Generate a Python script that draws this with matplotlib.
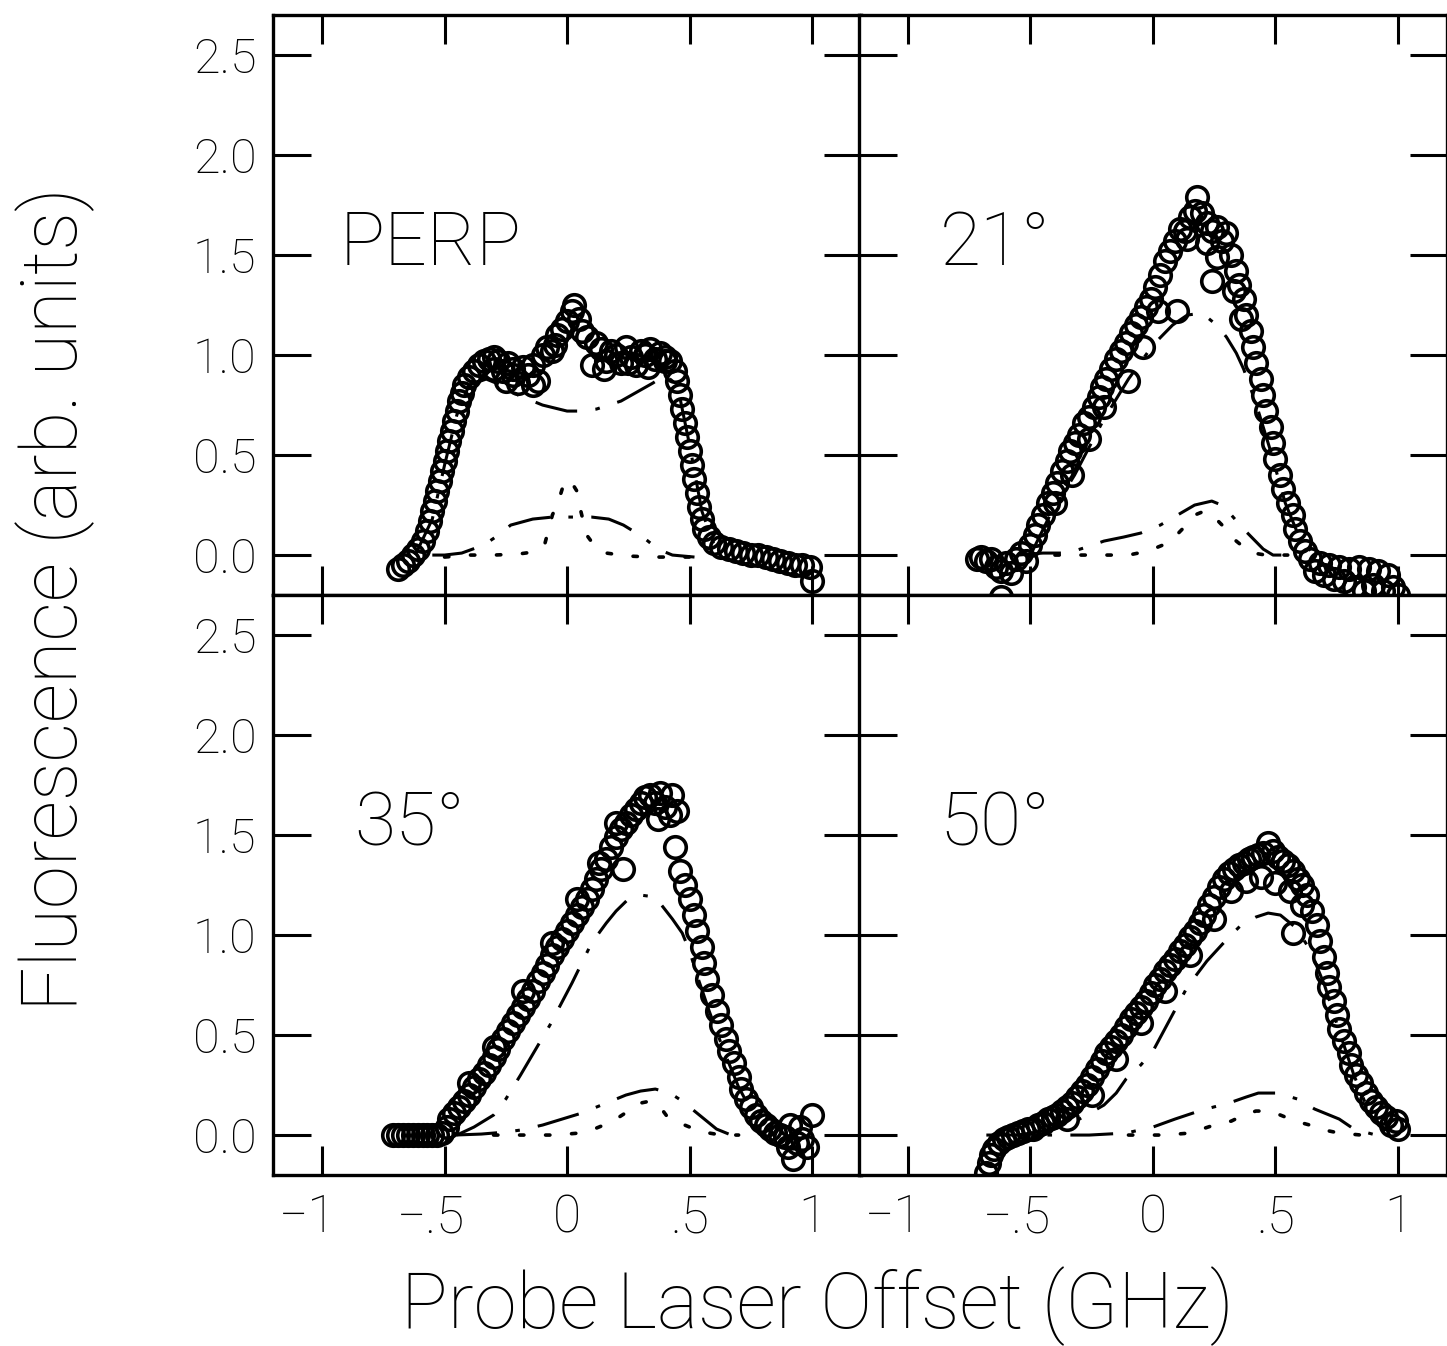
import numpy as np
import matplotlib.pyplot as plt
import matplotlib.transforms as mtransforms

# ---- data (x in GHz, y in arb. units) ----
panel_names = ['PERP', '21°', '35°', '50°']

# PERP
perp_x = [-0.69, -0.67, -0.65, -0.63, -0.61, -0.59, -0.57, -0.56, -0.55, -0.54, -0.53, -0.52, -0.51, -0.50,
          -0.49, -0.48, -0.47, -0.46, -0.45, -0.44, -0.43, -0.42, -0.40, -0.38, -0.36, -0.34, -0.32, -0.30,
          -0.28, -0.26, -0.25, -0.24, -0.22, -0.20, -0.18, -0.16, -0.14, -0.12, -0.10, -0.08, -0.06, -0.04,
          -0.02, 0.00, 0.02, 0.03, 0.05, 0.06, 0.08, 0.10, 0.12, 0.14, 0.16, 0.18, 0.20, 0.22, 0.24, 0.26,
          0.28, 0.30, 0.32, 0.34, 0.36, 0.38, 0.40, 0.42, 0.44, 0.45, 0.46, 0.47, 0.48, 0.49, 0.50, 0.51,
          0.52, 0.53, 0.54, 0.55, 0.56, 0.58, 0.60, 0.63, 0.66, 0.69, 0.72, 0.75, 0.78, 0.81, 0.84, 0.87,
          0.90, 0.93, 0.96, 0.99, 1.00,
          -0.30, -0.22, -0.14, -0.05, 0.15, 0.25, 0.33, 0.40]
perp_y = [-0.07, -0.05, -0.03, 0.00, 0.03, 0.07, 0.12, 0.17, 0.22, 0.27, 0.32, 0.37, 0.42, 0.47,
          0.52, 0.57, 0.62, 0.67, 0.72, 0.77, 0.81, 0.85, 0.89, 0.92, 0.95, 0.97, 0.98, 0.99,
          0.97, 0.92, 0.87, 0.96, 0.93, 0.86, 0.94, 0.90, 0.95, 0.87, 1.00, 1.04, 1.02, 1.10,
          1.13, 1.17, 1.22, 1.25, 1.18, 1.12, 1.09, 0.95, 1.06, 1.03, 0.97, 1.02, 1.00, 0.96, 1.04, 0.99,
          0.95, 1.02, 1.00, 1.03, 0.98, 1.01, 0.99, 0.97, 0.92, 0.87, 0.80, 0.73, 0.66, 0.59, 0.52, 0.45,
          0.38, 0.31, 0.24, 0.18, 0.13, 0.09, 0.06, 0.04, 0.03, 0.02, 0.01, 0.00, 0.00, -0.01, -0.02, -0.03,
          -0.04, -0.05, -0.05, -0.06, -0.13,
          0.93, 0.90, 0.85, 1.05, 0.93, 0.96, 0.94, 0.97]
perp_c1_x = [-0.62, -0.55, -0.50, -0.45, -0.40, -0.33, -0.25, -0.20, -0.10, 0.00, 0.05, 0.12, 0.22, 0.35, 0.40,
             0.45, 0.50, 0.55, 0.60, 0.65]
perp_c1_y = [0.00, 0.18, 0.45, 0.70, 0.85, 0.88, 0.84, 0.80, 0.75, 0.72, 0.72, 0.73, 0.77, 0.86, 0.90,
             0.85, 0.55, 0.22, 0.05, 0.00]
perp_c2_x = [-0.55, -0.50, -0.43, -0.34, -0.28, -0.23, -0.14, -0.06, 0.00, 0.10, 0.17, 0.23, 0.31, 0.37, 0.43, 0.52]
perp_c2_y = [0.00, 0.00, 0.01, 0.05, 0.10, 0.15, 0.18, 0.19, 0.19, 0.19, 0.18, 0.15, 0.09, 0.03, 0.00, -0.01]
perp_c3_x = [-0.50, -0.40, -0.30, -0.20, -0.14, -0.09, -0.06, -0.035, -0.02, 0.01, 0.04, 0.05, 0.08, 0.11,
             0.16, 0.25, 0.35, 0.45, 0.55]
perp_c3_y = [-0.01, 0.00, 0.00, 0.005, 0.015, 0.06, 0.20, 0.27, 0.33, 0.38, 0.32, 0.25, 0.10, 0.05,
             0.01, -0.005, -0.01, -0.01, -0.01]

# 21 deg
a21_x = [-0.72, -0.70, -0.68, -0.66, -0.64, -0.62, -0.60, -0.58, -0.56, -0.54, -0.52, -0.50, -0.48, -0.47,
         -0.45, -0.43, -0.41, -0.39, -0.37, -0.35, -0.34, -0.32, -0.30, -0.28, -0.26, -0.24, -0.22, -0.21,
         -0.19, -0.17, -0.15, -0.13, -0.11, -0.09, -0.07, -0.05, -0.03, -0.01, 0.01, 0.03, 0.05, 0.07,
         0.09, 0.11, 0.13, 0.15, 0.17, 0.18, 0.20, 0.22, 0.24, 0.26, 0.28, 0.30, 0.32, 0.34, 0.35, 0.37,
         0.38, 0.40, 0.41, 0.42, 0.44, 0.45, 0.46, 0.48, 0.49, 0.50, 0.52, 0.53, 0.55, 0.57, 0.58, 0.60,
         0.62, 0.64, 0.66, 0.68, 0.70, 0.72, 0.74, 0.76, 0.78, 0.80, 0.82, 0.84, 0.86, 0.88, 0.90, 0.92,
         0.94, 0.96, 0.98, 1.00,
         -0.62, -0.40, -0.33, -0.26, -0.20, -0.10, -0.04, 0.02, 0.10, 0.14, 0.22, 0.24, 0.26, 0.33, 0.36]
a21_y = [-0.02, -0.01, -0.03, -0.02, -0.06, -0.08, -0.04, -0.09, -0.02, 0.01, -0.03, 0.05, 0.10, 0.15,
         0.20, 0.26, 0.31, 0.36, 0.42, 0.47, 0.52, 0.56, 0.60, 0.66, 0.69, 0.74, 0.79, 0.84,
         0.88, 0.93, 0.98, 1.02, 1.06, 1.11, 1.15, 1.19, 1.24, 1.28, 1.34, 1.40, 1.47, 1.52,
         1.57, 1.63, 1.62, 1.69, 1.72, 1.79, 1.71, 1.66, 1.62, 1.64, 1.57, 1.61, 1.50, 1.42, 1.35, 1.28,
         1.20, 1.12, 1.04, 0.96, 0.88, 0.80, 0.72, 0.64, 0.56, 0.48, 0.40, 0.33, 0.26, 0.20, 0.13, 0.07,
         0.02, -0.02, -0.08, -0.04, -0.10, -0.05, -0.12, -0.06, -0.13, -0.07, -0.16, -0.06, -0.18, -0.07, -0.15, -0.08,
         -0.18, -0.10, -0.16, -0.20,
         -0.21, 0.26, 0.40, 0.58, 0.74, 0.87, 1.04, 1.22, 1.22, 1.58, 1.56, 1.37, 1.49, 1.32, 1.18]
a21_c1_x = [-0.50, -0.42, -0.32, -0.20, -0.10, 0.00, 0.08, 0.14, 0.20, 0.26, 0.30, 0.34, 0.37, 0.42, 0.48,
            0.54, 0.60, 0.66]
a21_c1_y = [0.00, 0.20, 0.40, 0.68, 0.88, 1.05, 1.15, 1.20, 1.21, 1.15, 1.09, 1.01, 0.93, 0.76, 0.52,
            0.26, 0.08, 0.00]
a21_c2_x = [-0.55, -0.45, -0.35, -0.27, -0.20, -0.12, -0.05, 0.03, 0.10, 0.17, 0.24, 0.28, 0.32, 0.37,
            0.41, 0.45, 0.49, 0.55]
a21_c2_y = [0.00, 0.01, 0.01, 0.04, 0.07, 0.09, 0.11, 0.15, 0.20, 0.25, 0.27, 0.25, 0.20, 0.13,
            0.08, 0.03, 0.00, 0.00]
a21_c3_x = [-0.40, -0.30, -0.20, -0.10, -0.02, 0.04, 0.08, 0.12, 0.17, 0.21, 0.25, 0.29, 0.33, 0.37,
            0.41, 0.46, 0.55]
a21_c3_y = [0.00, 0.00, 0.00, 0.00, 0.02, 0.05, 0.08, 0.13, 0.20, 0.22, 0.19, 0.14, 0.08, 0.04,
            0.01, 0.00, 0.00]

# 35 deg
a35_x = [-0.71, -0.69, -0.67, -0.65, -0.63, -0.61, -0.59, -0.57, -0.55, -0.53, -0.51, -0.49, -0.48, -0.46,
         -0.44, -0.42, -0.40, -0.38, -0.36, -0.34, -0.32, -0.30, -0.28, -0.26, -0.24, -0.22, -0.20, -0.18,
         -0.16, -0.14, -0.12, -0.10, -0.08, -0.06, -0.04, -0.02, 0.00, 0.02, 0.04, 0.06, 0.08, 0.10,
         0.12, 0.14, 0.16, 0.18, 0.20, 0.22, 0.24, 0.26, 0.28, 0.30, 0.32, 0.34, 0.36, 0.38, 0.40, 0.42,
         0.44, 0.46, 0.48, 0.50, 0.52, 0.53, 0.55, 0.56, 0.57, 0.59, 0.61, 0.63, 0.65, 0.66, 0.68, 0.70,
         0.71, 0.73, 0.75, 0.77, 0.79, 0.81, 0.83, 0.85, 0.87, 0.89, 0.91, 0.92, 0.94, 0.96, 0.98, 1.00,
         -0.40, -0.30, -0.18, -0.06, 0.04, 0.13, 0.23, 0.20, 0.37, 0.43, 0.45, 0.90, 0.95]
a35_y = [0.00, 0.00, 0.00, 0.00, 0.00, 0.00, 0.00, 0.00, 0.00, 0.00, 0.01, 0.04, 0.08, 0.11,
         0.14, 0.17, 0.20, 0.24, 0.28, 0.31, 0.35, 0.39, 0.43, 0.48, 0.52, 0.56, 0.60, 0.64,
         0.68, 0.72, 0.77, 0.81, 0.85, 0.90, 0.94, 0.98, 1.02, 1.06, 1.10, 1.14, 1.18, 1.23,
         1.28, 1.33, 1.38, 1.44, 1.49, 1.53, 1.56, 1.60, 1.63, 1.66, 1.69, 1.70, 1.66, 1.71, 1.64, 1.60,
         1.44, 1.32, 1.25, 1.18, 1.10, 1.02, 0.94, 0.86, 0.78, 0.70, 0.62, 0.55, 0.48, 0.42, 0.36, 0.29,
         0.23, 0.18, 0.14, 0.10, 0.07, 0.05, 0.03, 0.01, 0.00, -0.01, 0.05, -0.12, -0.04, -0.02, -0.06, 0.10,
         0.26, 0.44, 0.72, 0.96, 1.18, 1.36, 1.33, 1.56, 1.58, 1.70, 1.62, -0.06, 0.04]
a35_c1_x = [-0.45, -0.38, -0.30, -0.25, -0.19, -0.07, 0.02, 0.10, 0.16, 0.20, 0.25, 0.30, 0.36, 0.43,
            0.47, 0.50, 0.53, 0.58, 0.64, 0.70, 0.77, 0.85]
a35_c1_y = [0.00, 0.04, 0.10, 0.18, 0.30, 0.55, 0.76, 0.96, 1.06, 1.12, 1.18, 1.20, 1.19, 1.08,
            1.01, 0.92, 0.80, 0.62, 0.42, 0.24, 0.08, 0.00]
a35_c2_x = [-0.46, -0.35, -0.25, -0.19, -0.10, -0.02, 0.06, 0.12, 0.18, 0.24, 0.30, 0.36, 0.42, 0.47,
            0.50, 0.55, 0.61, 0.67]
a35_c2_y = [0.00, 0.005, 0.015, 0.025, 0.05, 0.08, 0.11, 0.14, 0.17, 0.20, 0.22, 0.23, 0.21, 0.17,
            0.14, 0.09, 0.03, 0.00]
a35_c3_x = [-0.30, -0.15, -0.05, 0.05, 0.10, 0.15, 0.20, 0.25, 0.30, 0.34, 0.38, 0.41, 0.46, 0.52,
            0.58, 0.63, 0.70]
a35_c3_y = [0.00, 0.00, 0.00, 0.01, 0.025, 0.05, 0.08, 0.12, 0.16, 0.17, 0.14, 0.09, 0.06, 0.03,
            0.01, 0.00, 0.00]

# 50 deg
a50_x = [-0.68, -0.67, -0.66, -0.65, -0.63, -0.61, -0.59, -0.57, -0.55, -0.53, -0.51, -0.49, -0.47, -0.45,
         -0.43, -0.41, -0.39, -0.37, -0.35, -0.33, -0.31, -0.29, -0.27, -0.25, -0.23, -0.21, -0.19, -0.17,
         -0.15, -0.13, -0.11, -0.09, -0.07, -0.05, -0.03, -0.01, 0.01, 0.03, 0.05, 0.07, 0.09, 0.11,
         0.13, 0.15, 0.17, 0.19, 0.21, 0.23, 0.25, 0.27, 0.29, 0.31, 0.33, 0.35, 0.37, 0.39, 0.41, 0.43,
         0.45, 0.47, 0.49, 0.51, 0.53, 0.55, 0.57, 0.59, 0.61, 0.63, 0.65, 0.67, 0.68, 0.70, 0.71, 0.72,
         0.74, 0.75, 0.76, 0.78, 0.80, 0.81, 0.83, 0.85, 0.87, 0.89, 0.91, 0.93, 0.95, 0.97, 0.99, 1.00,
         0.57, 0.32, 0.38, 0.44, 0.50, 0.56, 0.61, -0.35, -0.25, -0.15, -0.05, 0.05, 0.15, 0.25]
a50_y = [-0.19, -0.14, -0.10, -0.07, -0.04, -0.02, -0.01, 0.00, 0.01, 0.02, 0.03, 0.03, 0.05, 0.06,
         0.08, 0.09, 0.10, 0.12, 0.14, 0.16, 0.19, 0.22, 0.25, 0.29, 0.33, 0.37, 0.41, 0.44,
         0.47, 0.50, 0.54, 0.58, 0.61, 0.64, 0.67, 0.71, 0.75, 0.78, 0.82, 0.85, 0.88, 0.92,
         0.95, 0.99, 1.02, 1.06, 1.10, 1.15, 1.19, 1.24, 1.28, 1.31, 1.33, 1.35, 1.36, 1.38, 1.39, 1.40,
         1.41, 1.46, 1.42, 1.39, 1.37, 1.35, 1.32, 1.28, 1.25, 1.20, 1.12, 1.05, 0.97, 0.89, 0.81, 0.74,
         0.67, 0.60, 0.53, 0.47, 0.41, 0.35, 0.30, 0.26, 0.21, 0.17, 0.14, 0.11, 0.09, 0.05, 0.07, 0.03,
         1.01, 1.22, 1.27, 1.29, 1.26, 1.22, 1.15, 0.08, 0.20, 0.38, 0.56, 0.72, 0.90, 1.08]
a50_c1_x = [-0.55, -0.40, -0.30, -0.20, -0.15, -0.11, -0.05, 0.00, 0.07, 0.14, 0.22, 0.31, 0.36, 0.42,
            0.47, 0.52, 0.58, 0.64, 0.70, 0.76, 0.82, 0.88, 0.95]
a50_c1_y = [0.00, 0.03, 0.08, 0.15, 0.21, 0.28, 0.35, 0.42, 0.58, 0.74, 0.87, 0.99, 1.05, 1.09,
            1.11, 1.10, 1.04, 0.93, 0.75, 0.52, 0.30, 0.12, 0.02]
a50_c2_x = [-0.68, -0.50, -0.26, -0.11, 0.00, 0.09, 0.20, 0.31, 0.38, 0.43, 0.51, 0.59, 0.66, 0.76, 0.82, 0.91]
a50_c2_y = [0.00, 0.00, 0.00, 0.01, 0.04, 0.08, 0.125, 0.16, 0.19, 0.21, 0.21, 0.18, 0.13, 0.08, 0.03, 0.00]
a50_c3_x = [-0.10, 0.05, 0.15, 0.25, 0.32, 0.37, 0.42, 0.47, 0.52, 0.58, 0.64, 0.68, 0.76, 0.85]
a50_c3_y = [0.00, 0.00, 0.01, 0.05, 0.07, 0.10, 0.12, 0.12, 0.10, 0.07, 0.05, 0.03, 0.01, 0.00]

x_ticks = [-1, -0.5, 0, 0.5, 1]
x_tick_labels = ['\u22121', '\u2212.5', '0', '.5', '1']
y_ticks = [0, 0.5, 1.0, 1.5, 2.0, 2.5]
y_tick_labels = ['0.0', '0.5', '1.0', '1.5', '2.0', '2.5']

panels = [
    (perp_x, perp_y, perp_c1_x, perp_c1_y, perp_c2_x, perp_c2_y, perp_c3_x, perp_c3_y),
    (a21_x, a21_y, a21_c1_x, a21_c1_y, a21_c2_x, a21_c2_y, a21_c3_x, a21_c3_y),
    (a35_x, a35_y, a35_c1_x, a35_c1_y, a35_c2_x, a35_c2_y, a35_c3_x, a35_c3_y),
    (a50_x, a50_y, a50_c1_x, a50_c1_y, a50_c2_x, a50_c2_y, a50_c3_x, a50_c3_y),
]

# thin sans, close to the plotter font of the scan
plt.rcParams['font.family'] = ['Roboto', 'DejaVu Sans']
plt.rcParams['font.weight'] = 'light'

fig = plt.figure(figsize=(14.47, 13.46), dpi=100)
# axes boxes in figure fractions: [left, bottom, width, height]
boxes = [[0.1887, 0.5579, 0.4064, 0.4309],
         [0.5936, 0.5579, 0.4064, 0.4309],
         [0.1887, 0.1270, 0.4064, 0.4309],
         [0.5936, 0.1270, 0.4064, 0.4309]]

dashdot = (0, (14, 6, 1.5, 6))
dotted = (0, (1.2, 6))
# negative x labels: the digit sits on the tick, the minus hangs to the left
minus_shift = mtransforms.ScaledTranslation(-0.14, 0, fig.dpi_scale_trans)

for i in range(4):
    ax = fig.add_axes(boxes[i])
    x, y, c1x, c1y, c2x, c2y, c3x, c3y = panels[i]
    ax.plot(c1x, c1y, color='black', lw=2.2, linestyle=dashdot, zorder=2)
    ax.plot(c2x, c2y, color='black', lw=2.2, linestyle=dashdot, zorder=2)
    ax.plot(c3x, c3y, color='black', lw=2.6, linestyle=dotted, dash_capstyle='round', zorder=2)
    ax.plot(x, y, 'o', ms=15.5, mfc='none', mec='black', mew=2.6, linestyle='none', zorder=3)

    ax.set_xlim(-1.2, 1.2)
    ax.set_ylim(-0.2, 2.7)
    ax.set_xticks(x_ticks)
    ax.set_yticks(y_ticks)
    ax.tick_params(direction='in', top=True, right=True, width=2.2)
    ax.tick_params(axis='y', length=27, labelsize=35, pad=12)
    ax.tick_params(axis='x', length=21, labelsize=37, pad=13)
    for s in ax.spines.values():
        s.set_linewidth(2.4)

    if i % 2 == 0:
        ax.set_yticklabels(y_tick_labels)
    else:
        ax.set_yticklabels([])
    if i >= 2:
        ax.set_xticklabels(x_tick_labels)
        for lab in ax.get_xticklabels():
            if lab.get_text().startswith('\u2212'):
                lab.set_transform(lab.get_transform() + minus_shift)
    else:
        ax.set_xticklabels([])

    lx = -0.93 if i == 0 else -0.87
    ax.text(lx, 1.45, panel_names[i], fontsize=54, va='baseline', ha='left')

fig.text(0.038, 0.555, 'Fluorescence (arb. units)', rotation=90, fontsize=56, ha='center', va='center')
fig.text(0.565, 0.03, 'Probe Laser Offset (GHz)', fontsize=56, ha='center', va='center')

fig.savefig('out.png', dpi=100)
